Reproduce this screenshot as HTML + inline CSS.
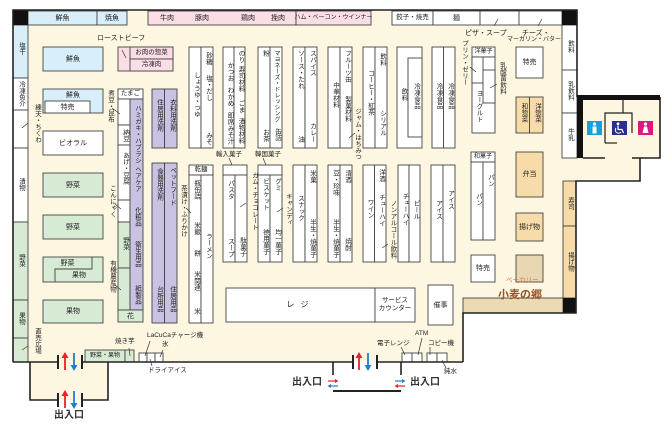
<!DOCTYPE html>
<html><head><meta charset="utf-8">
<style>
*{margin:0;padding:0;box-sizing:border-box}
body{width:672px;height:427px;overflow:hidden;background:#fff;position:relative;font-family:"Liberation Sans","Noto Sans CJK JP",sans-serif;color:#222}
svg{position:absolute;left:0;top:0}
.t{position:absolute;font-size:7px;line-height:1;white-space:nowrap}
.v{position:absolute;font-size:6.5px;line-height:1;writing-mode:vertical-rl;white-space:nowrap}
.c{position:absolute;display:flex;align-items:center;justify-content:center;font-size:7px;line-height:1;white-space:nowrap;text-align:center}
.b{font-weight:bold;font-size:10px;color:#333}
</style></head><body>
<svg width="672" height="427">
<polygon points="13,10 577,10 577,97 660,97 660,158 640,158 640,181 576,181 576,313 463,313 463,362 13,362" fill="#fdf6e1"/>
<rect x="30" y="362" width="78" height="38" fill="#fdf6e1"/>

<g stroke="#444" stroke-width="0.9">
<rect x="28" y="11" width="69" height="14" fill="#d8eef8"/>
<rect x="97" y="11" width="30" height="14" fill="#d8eef8"/>
<rect x="148" y="11" width="148" height="14" fill="#fbdde6"/>
<rect x="296" y="11" width="75" height="14" fill="#fbdde6"/>
<rect x="392" y="11" width="41" height="14" fill="#fff"/>
<rect x="433" y="11" width="47" height="14" fill="#fff"/>
<rect x="480" y="11" width="39" height="14" fill="#fff"/>
<rect x="519" y="11" width="43" height="14" fill="#fff"/>
<rect x="13" y="25" width="15" height="53" fill="#d8eef8"/>
<rect x="13" y="78" width="15" height="32" fill="#fff"/>
<rect x="13" y="110" width="15" height="38" fill="#fff"/>
<rect x="13" y="148" width="15" height="74" fill="#fff"/>
<rect x="13" y="222" width="15" height="78" fill="#d7ebd4"/>
<rect x="13" y="300" width="15" height="38" fill="#d7ebd4"/>
<rect x="13" y="338" width="15" height="24" fill="#d7ebd4"/>
<rect x="562" y="25" width="15" height="45" fill="#fff"/>
<rect x="562" y="70" width="15" height="43" fill="#fff"/>
<rect x="562" y="113" width="15" height="45" fill="#fff"/>
<rect x="563" y="181" width="13" height="45" fill="#f7dcaa"/>
<rect x="563" y="226" width="13" height="72" fill="#f7dcaa"/>
<rect x="463" y="298" width="100" height="15" fill="#ecdab3"/>

<rect x="43" y="47" width="60" height="24" fill="#d8eef8"/>
<rect x="43" y="89" width="60" height="24" fill="#d8eef8"/>
<rect x="45" y="101" width="45" height="12" fill="#fff"/>
<rect x="43" y="131" width="60" height="24" fill="#fff"/>
<rect x="43" y="173" width="60" height="24" fill="#d7ebd4"/>
<rect x="43" y="215" width="60" height="24" fill="#d7ebd4"/>
<rect x="43" y="257" width="60" height="25" fill="#d7ebd4"/>
<polyline points="55,282 55,269 92,269 92,257" fill="none"/>
<rect x="43" y="300" width="60" height="23" fill="#d7ebd4"/>

<rect x="118" y="47" width="55" height="24" fill="#fbdde6"/>
<rect x="130" y="47" width="43" height="12" fill="#fbdde6"/>
<rect x="130" y="59" width="43" height="12" fill="#fbdde6"/>

<rect x="118" y="89" width="25" height="10" fill="#fff"/>
<rect x="118" y="99" width="12" height="26" fill="#fff"/>
<rect x="118" y="125" width="12" height="20" fill="#fff"/>
<rect x="118" y="145" width="12" height="55" fill="#fff"/>
<rect x="118" y="200" width="12" height="22" fill="#fff"/>
<rect x="118" y="222" width="12" height="46" fill="#d7ebd4"/>
<rect x="118" y="268" width="12" height="42" fill="#d7ebd4"/>
<rect x="130" y="99" width="13" height="211" fill="#c9c2e2"/>
<rect x="118" y="310" width="25" height="12" fill="#d7ebd4"/>

<rect x="152" y="89" width="12.5" height="59" fill="#c9c2e2"/>
<rect x="164.5" y="89" width="12.5" height="59" fill="#c9c2e2"/>
<rect x="152" y="163" width="12.5" height="160" fill="#c9c2e2"/>
<rect x="164.5" y="163" width="12.5" height="160" fill="#c9c2e2"/>

<g fill="#fff">
<rect x="189" y="47" width="12" height="101"/><rect x="201" y="47" width="12" height="101"/>
<rect x="223" y="47" width="11" height="101"/><rect x="234" y="47" width="11" height="101"/>
<rect x="258" y="47" width="12" height="101"/><rect x="270" y="47" width="12" height="101"/>
<rect x="293" y="47" width="12" height="101"/><rect x="305" y="47" width="12" height="101"/>
<rect x="328" y="47" width="12" height="101"/><rect x="340" y="47" width="12" height="101"/>
<rect x="363" y="47" width="12" height="101"/><rect x="375" y="47" width="12" height="101"/>
<rect x="397" y="47" width="25" height="101"/><rect x="408" y="58" width="14" height="79"/>
<rect x="432" y="47" width="11.5" height="101"/><rect x="443.5" y="47" width="11.5" height="101"/>

<rect x="189" y="165" width="24" height="10"/>
<rect x="189" y="175" width="12" height="148"/><rect x="201" y="175" width="12" height="148"/>
<rect x="223" y="165" width="24" height="10"/>
<rect x="223" y="175" width="12" height="87"/><rect x="235" y="175" width="12" height="87"/>
<rect x="258" y="165" width="24" height="10"/>
<rect x="258" y="175" width="12" height="87"/><rect x="270" y="175" width="12" height="87"/>
<rect x="293" y="165" width="12" height="97"/><rect x="305" y="165" width="12" height="97"/>
<rect x="328" y="165" width="12" height="97"/><rect x="340" y="165" width="12" height="97"/>
<rect x="363" y="165" width="11.5" height="97"/><rect x="374.5" y="165" width="11.5" height="97"/>
<rect x="398" y="165" width="11" height="97"/><rect x="409" y="165" width="11" height="97"/>
<rect x="431" y="165" width="12" height="97"/><rect x="443" y="165" width="12" height="97"/>

<rect x="472" y="47" width="23" height="10"/>
<rect x="472" y="57" width="23" height="76"/>
<rect x="472" y="57" width="11" height="26"/>
<rect x="483" y="70" width="12" height="33"/>
<rect x="516" y="47" width="27" height="31"/>
<rect x="471" y="152" width="24" height="10"/>
<rect x="471" y="162" width="12" height="78"/><rect x="483" y="162" width="12" height="78"/>
<rect x="471" y="255" width="24" height="27"/>
<rect x="428" y="285" width="25" height="40"/>
<rect x="226" y="288" width="149" height="34"/>
<rect x="375" y="288" width="40" height="34"/>
<rect x="139" y="353" width="8" height="9"/><rect x="147" y="353" width="8" height="9"/><rect x="155" y="353" width="8" height="9"/>
<rect x="402" y="353" width="10" height="9"/><rect x="412" y="353" width="10" height="9"/>
<rect x="427" y="353" width="10" height="9"/><rect x="437" y="353" width="10" height="9"/>
</g>
<rect x="516" y="97" width="13.5" height="36" fill="#f7dcaa"/>
<rect x="529.5" y="97" width="13.5" height="36" fill="#f7dcaa"/>
<rect x="516" y="152" width="27" height="45" fill="#f7dcaa"/>
<rect x="516" y="213" width="27" height="28" fill="#f7dcaa"/>
<rect x="516" y="255" width="27" height="27" fill="#e8d7b2"/>
<rect x="85" y="350" width="40" height="12" fill="#d7ebd4"/>
<rect x="125" y="350" width="9" height="12" fill="#d7ebd4"/>
</g>

<rect x="13" y="10" width="15" height="15" fill="#111"/>
<rect x="562" y="10" width="15" height="15" fill="#111"/>
<rect x="563" y="298" width="13" height="15" fill="#111"/>

<g stroke="#222" stroke-width="1.6" fill="none">
<polyline points="13,362 13,10 577,10 577,97"/>
<polyline points="660,97 660,158 632,158"/>
<line x1="583" y1="158" x2="605" y2="158"/>
<polyline points="640,158 640,181 576,181 576,313 463,313 463,362"/>
<line x1="13" y1="362" x2="58" y2="362"/>
<line x1="82" y1="362" x2="353" y2="362"/>
<line x1="377" y1="362" x2="463" y2="362"/>
<polyline points="58,400 30,400 30,362"/>
<polyline points="82,400 108,400 108,362"/>
<line x1="333" y1="362" x2="333" y2="375"/>
<line x1="401" y1="362" x2="401" y2="375"/>
<line x1="333" y1="391" x2="401" y2="391" stroke-width="2"/>
</g>
<g stroke="#222" stroke-width="2">
<line x1="58" y1="355" x2="58" y2="369"/><line x1="82" y1="355" x2="82" y2="369"/>
<line x1="58" y1="393" x2="58" y2="407"/><line x1="82" y1="393" x2="82" y2="407"/>
<line x1="353" y1="355" x2="353" y2="369"/><line x1="377" y1="355" x2="377" y2="369"/>
</g>
<rect x="577" y="95" width="83" height="5" fill="#111"/>
<rect x="577" y="95" width="6" height="63" fill="#111"/>
<g stroke="#222" stroke-width="1.2" fill="none">
<line x1="623" y1="99" x2="623" y2="113"/>
<polyline points="605,143 605,113 632,113 632,133"/>
<line x1="605" y1="143" x2="617" y2="143"/>
</g>
<rect x="587" y="121" width="15" height="14" fill="#18a0de"/>
<circle cx="594.5" cy="124" r="1.6" fill="#fff"/>
<rect x="592.5" y="126.5" width="4" height="7" fill="#fff"/>
<rect x="612" y="121" width="15" height="14" fill="#2b2d8c"/>
<circle cx="618" cy="123.8" r="1.4" fill="#fff"/>
<path d="M618 125.5 L618 129.5 L622 129.5 L623.5 133" stroke="#fff" stroke-width="1.2" fill="none"/>
<path d="M616 128 A3 3 0 1 0 621 132" stroke="#fff" stroke-width="1" fill="none"/>
<rect x="638" y="121" width="15" height="14" fill="#e4157e"/>
<circle cx="645.5" cy="124" r="1.6" fill="#fff"/>
<polygon points="642.5,133 648.5,133 647,126.5 644,126.5" fill="#fff"/>

<g stroke-width="1.8" fill="none">
<line x1="65" y1="356" x2="65" y2="370" stroke="#e8202a"/>
<line x1="74" y1="353" x2="74" y2="367" stroke="#1e7fd0"/>
<line x1="65" y1="394" x2="65" y2="408" stroke="#e8202a"/>
<line x1="74" y1="391" x2="74" y2="405" stroke="#1e7fd0"/>
<line x1="359" y1="356" x2="359" y2="370" stroke="#e8202a"/>
<line x1="368" y1="353" x2="368" y2="367" stroke="#1e7fd0"/>
</g>
<polygon points="61.5,358 65,352 68.5,358" fill="#e8202a"/>
<polygon points="70.5,365 74,371 77.5,365" fill="#1e7fd0"/>
<polygon points="61.5,396 65,390 68.5,396" fill="#e8202a"/>
<polygon points="70.5,403 74,409 77.5,403" fill="#1e7fd0"/>
<polygon points="355.5,358 359,352 362.5,358" fill="#e8202a"/>
<polygon points="364.5,365 368,371 371.5,365" fill="#1e7fd0"/>
<g stroke-width="1.2" fill="none">
<line x1="328" y1="381" x2="337" y2="381" stroke="#e8202a"/>
<line x1="329" y1="386" x2="338" y2="386" stroke="#1e7fd0"/>
<line x1="395" y1="381" x2="404" y2="381" stroke="#1e7fd0"/>
<line x1="396" y1="386" x2="405" y2="386" stroke="#e8202a"/>
</g>
<polygon points="335,379 338.5,381 335,383" fill="#e8202a"/>
<polygon points="331,384 327.5,386 331,388" fill="#1e7fd0"/>
<polygon points="402,379 405.5,381 402,383" fill="#1e7fd0"/>
<polygon points="398,384 394.5,386 398,388" fill="#e8202a"/>

<g stroke="#333" stroke-width="0.7">
<line x1="22" y1="128" x2="28" y2="123"/>
<line x1="122" y1="50" x2="126" y2="58"/>
<line x1="112" y1="108" x2="120" y2="114"/>
<line x1="115" y1="204" x2="121" y2="209"/>
<line x1="115" y1="285" x2="121" y2="290"/>
<line x1="186" y1="208" x2="191" y2="213"/>
<line x1="240" y1="207" x2="246" y2="203"/>
<line x1="277" y1="212" x2="283" y2="208"/>
<line x1="349" y1="138" x2="355" y2="133"/>
<line x1="382" y1="248" x2="388" y2="244"/>
<line x1="470" y1="67" x2="476" y2="72"/>
<line x1="490" y1="88" x2="497" y2="84"/>
<line x1="494" y1="26" x2="498" y2="19"/>
<line x1="538" y1="26" x2="542" y2="19"/>
<line x1="229" y1="158" x2="232" y2="165"/>
<line x1="263" y1="158" x2="266" y2="165"/>
<line x1="22" y1="350" x2="28" y2="346"/>
<line x1="129" y1="348" x2="130" y2="356"/>
<line x1="150" y1="341" x2="145" y2="356"/>
<line x1="163" y1="350" x2="160" y2="357"/>
<line x1="152" y1="366" x2="150" y2="359"/>
<line x1="401" y1="347" x2="405" y2="355"/>
<line x1="422" y1="338" x2="418" y2="355"/>
<line x1="430" y1="347" x2="430" y2="355"/>
<line x1="446" y1="368" x2="442" y2="360"/>
</g>
</svg>

<div class="c" style="left:28px;top:11px;width:69px;height:14px">鮮魚</div>
<div class="c" style="left:97px;top:11px;width:30px;height:14px">焼魚</div>
<div class="t" style="left:160px;top:14.5px">牛肉</div>
<div class="t" style="left:195px;top:14.5px">豚肉</div>
<div class="t" style="left:241px;top:14.5px">鶏肉</div>
<div class="t" style="left:271px;top:14.5px">挽肉</div>
<div class="c" style="left:296px;top:11px;width:75px;height:14px;font-size:6px">ハム・ベーコン・ウインナー</div>
<div class="c" style="left:392px;top:11px;width:41px;height:14px;font-size:6.5px">餃子・焼売</div>
<div class="c" style="left:433px;top:11px;width:47px;height:14px">麺</div>
<div class="t" style="left:465px;top:29.5px">ピザ・スープ</div>
<div class="t" style="left:522px;top:29.5px">チーズ・</div>
<div class="t" style="left:507px;top:37px;font-size:6px">マーガリン・バター</div>
<div class="t" style="left:97px;top:34.5px">ローストビーフ</div>

<div class="v" style="left:17px;top:42px">塩干</div>
<div class="v" style="left:17px;top:81px">冷凍魚介</div>
<div class="v" style="left:17px;top:178px">漬物</div>
<div class="v" style="left:17px;top:254px">野菜</div>
<div class="v" style="left:17px;top:312px">果物</div>
<div class="v" style="left:33px;top:104px">練天・ちくわ</div>
<div class="v" style="left:33px;top:328px">直売広場</div>

<div class="v" style="left:566px;top:40px">飲料</div>
<div class="v" style="left:566px;top:81px">乳飲料</div>
<div class="v" style="left:566px;top:128px">牛乳</div>
<div class="v" style="left:566px;top:197px">寿司</div>
<div class="v" style="left:566px;top:252px">揚げ物</div>

<div class="c" style="left:43px;top:47px;width:60px;height:24px">鮮魚</div>
<div class="c" style="left:43px;top:89px;width:60px;height:12px">鮮魚</div>
<div class="c" style="left:45px;top:101px;width:45px;height:12px">特売</div>
<div class="c" style="left:43px;top:131px;width:60px;height:24px">ビオラル</div>
<div class="c" style="left:43px;top:173px;width:60px;height:24px">野菜</div>
<div class="c" style="left:43px;top:215px;width:60px;height:24px">野菜</div>
<div class="c" style="left:43px;top:257px;width:49px;height:12px">野菜</div>
<div class="c" style="left:55px;top:269px;width:48px;height:13px">果物</div>
<div class="c" style="left:43px;top:300px;width:60px;height:23px">果物</div>

<div class="c" style="left:130px;top:47px;width:43px;height:12px;font-size:6.5px">お肉の惣菜</div>
<div class="c" style="left:130px;top:59px;width:43px;height:12px;font-size:6.5px">冷凍肉</div>
<div class="c" style="left:118px;top:89px;width:25px;height:10px;font-size:6.5px">たまご</div>
<div class="v" style="left:106px;top:90px">煮豆・昆布</div>
<div class="v" style="left:121px;top:129px">納豆</div>
<div class="v" style="left:121px;top:152px">あげ・豆腐</div>
<div class="v" style="left:108px;top:185px">こんにゃく</div>
<div class="v" style="left:121px;top:237px">野菜</div>
<div class="v" style="left:108px;top:260px">有機農産物</div>
<div class="c" style="left:118px;top:310px;width:25px;height:12px">花</div>
<div class="v" style="left:133px;top:105px">ハミガキ・ハブラシ</div>
<div class="v" style="left:133px;top:166px">ヘアケア</div>
<div class="v" style="left:133px;top:207px">化粧品</div>
<div class="v" style="left:133px;top:241px">衛生用品</div>
<div class="v" style="left:133px;top:285px">紙製品</div>

<div class="v" style="left:155px;top:99px">住居用洗剤</div>
<div class="v" style="left:168px;top:99px">衣料用洗剤</div>
<div class="v" style="left:155px;top:168px">食器用洗剤</div>
<div class="v" style="left:168px;top:167px">ペットフード</div>
<div class="v" style="left:155px;top:286px">台所用品</div>
<div class="v" style="left:168px;top:286px">住居用品</div>

<div class="v" style="left:192px;top:72px">しょうゆ・つゆ</div>
<div class="v" style="left:204px;top:52px">砂糖</div>
<div class="v" style="left:204px;top:75px">塩・だし</div>
<div class="v" style="left:204px;top:132px">みそ</div>
<div class="c" style="left:189px;top:165px;width:24px;height:10px;font-size:6.5px">乾麺</div>
<div class="v" style="left:192px;top:180px">瓶缶詰</div>
<div class="v" style="left:192px;top:222px">米飯</div>
<div class="v" style="left:192px;top:250px">餅</div>
<div class="v" style="left:192px;top:271px">米関連</div>
<div class="v" style="left:192px;top:308px">米</div>
<div class="v" style="left:204px;top:233px">ラーメン</div>
<div class="v" style="left:179px;top:185px">茶漬け・ふりかけ</div>

<div class="v" style="left:225.5px;top:62px">かつお</div>
<div class="v" style="left:225.5px;top:87px">わかめ</div>
<div class="v" style="left:225.5px;top:112px">即席みそ汁</div>
<div class="v" style="left:236.5px;top:50px">のり</div>
<div class="v" style="left:236.5px;top:66px">寿司材料</div>
<div class="v" style="left:236.5px;top:100px">ごま</div>
<div class="v" style="left:236.5px;top:118px">漬物材料</div>

<div class="v" style="left:261px;top:50px">粉</div>
<div class="v" style="left:261px;top:129px">お茶</div>
<div class="v" style="left:273px;top:50px;font-size:6px">マヨネーズ・ドレッシング</div>
<div class="v" style="left:273px;top:128px">缶詰</div>

<div class="v" style="left:296px;top:50px">ソース・たれ</div>
<div class="v" style="left:296px;top:136px">油</div>
<div class="v" style="left:308px;top:50px">スパイス</div>
<div class="v" style="left:308px;top:123px">カレー</div>

<div class="v" style="left:331px;top:82px">中華材料</div>
<div class="v" style="left:343px;top:50px">フルーツ缶</div>
<div class="v" style="left:343px;top:96px">製菓材料</div>
<div class="v" style="left:353px;top:108px">ジャム・はちみつ</div>

<div class="v" style="left:366px;top:70px">コーヒー・紅茶</div>
<div class="v" style="left:378px;top:53px">飲料</div>
<div class="v" style="left:378px;top:110px">シリアル</div>

<div class="v" style="left:399.5px;top:88px">飲料</div>
<div class="v" style="left:412px;top:83px">冷凍食品</div>
<div class="v" style="left:434.5px;top:83px">冷凍食品</div>
<div class="v" style="left:446px;top:83px">冷凍食品</div>

<div class="c" style="left:472px;top:47px;width:23px;height:10px;font-size:6px">洋菓子</div>
<div class="v" style="left:474.5px;top:90px">ヨーグルト</div>
<div class="v" style="left:460px;top:40px">プリン・ゼリー</div>
<div class="v" style="left:498px;top:62px">乳酸菌飲料</div>
<div class="c" style="left:516px;top:47px;width:27px;height:31px">特売</div>
<div class="v" style="left:519.5px;top:103px">和惣菜</div>
<div class="v" style="left:533px;top:103px">洋惣菜</div>
<div class="c" style="left:471px;top:152px;width:24px;height:10px;font-size:6px">和菓子</div>
<div class="v" style="left:474px;top:193px">パン</div>
<div class="v" style="left:486px;top:174px">パン</div>
<div class="c" style="left:516px;top:152px;width:27px;height:45px">弁当</div>
<div class="c" style="left:516px;top:213px;width:27px;height:28px">揚げ物</div>
<div class="c" style="left:471px;top:255px;width:24px;height:27px">特売</div>
<div class="c" style="left:428px;top:285px;width:25px;height:40px">催事</div>

<div class="t" style="left:216px;top:152px;font-size:6.5px">輸入菓子</div>
<div class="t" style="left:255px;top:152px;font-size:6.5px">韓国菓子</div>
<div class="v" style="left:226px;top:180px">パスタ</div>
<div class="v" style="left:226px;top:238px">スープ</div>
<div class="v" style="left:238px;top:237px">駄菓子</div>
<div class="v" style="left:250px;top:172px">ガム・チョコレート</div>
<div class="v" style="left:261px;top:178px">ビスケット</div>
<div class="v" style="left:261px;top:229px">徳用菓子</div>
<div class="v" style="left:273px;top:178px">グミ</div>
<div class="v" style="left:273px;top:229px">均一菓子</div>
<div class="v" style="left:284px;top:193px">キャンディ</div>
<div class="v" style="left:296px;top:195px">スナック</div>
<div class="v" style="left:308px;top:170px">米菓</div>
<div class="v" style="left:308px;top:219px">半生・焼菓子</div>
<div class="v" style="left:331px;top:170px">豆・珍味</div>
<div class="v" style="left:331px;top:219px">半生・焼菓子</div>
<div class="v" style="left:343px;top:170px">清酒</div>
<div class="v" style="left:343px;top:238px">焼酎</div>
<div class="v" style="left:365.5px;top:199px">ワイン</div>
<div class="v" style="left:377px;top:169px">洋酒</div>
<div class="v" style="left:377px;top:194px">チューハイ</div>
<div class="v" style="left:388.5px;top:200px">ノンアルコール飲料</div>
<div class="v" style="left:400.5px;top:193px">チューハイ</div>
<div class="v" style="left:411.5px;top:200px">ビール</div>
<div class="v" style="left:434px;top:200px">アイス</div>
<div class="v" style="left:446px;top:190px">アイス</div>

<div class="c" style="left:226px;top:288px;width:149px;height:34px;font-size:8px;letter-spacing:6px">レジ</div>
<div class="c" style="left:375px;top:288px;width:40px;height:34px;font-size:6.5px;flex-direction:column;line-height:1.3">サービス<br>カウンター</div>

<div class="c" style="left:85px;top:350px;width:40px;height:12px;font-size:6px">野菜・果物</div>
<div class="t" style="left:115px;top:339px;font-size:6.5px">焼き芋</div>
<div class="t" style="left:147px;top:333px;font-size:6.5px">LaCuCaチャージ機</div>
<div class="t" style="left:162px;top:342px;font-size:6.5px">氷</div>
<div class="t" style="left:148px;top:368px;font-size:6.5px">ドライアイス</div>
<div class="t" style="left:377px;top:341px;font-size:6.5px">電子レンジ</div>
<div class="t" style="left:415px;top:331px;font-size:6.5px">ATM</div>
<div class="t" style="left:428px;top:341px;font-size:6.5px">コピー機</div>
<div class="t" style="left:444px;top:369px;font-size:6.5px">純水</div>
<div class="t b" style="left:54px;top:411px">出入口</div>
<div class="t b" style="left:292px;top:378px">出入口</div>
<div class="t b" style="left:410px;top:378px">出入口</div>

<div class="t" style="left:506px;top:278px;font-size:6.5px;color:#d77b3e">ベーカリー</div>
<div class="t" style="left:498px;top:290px;font-size:11px;font-weight:bold;color:#9a5428">小麦の郷</div>
</body></html>
